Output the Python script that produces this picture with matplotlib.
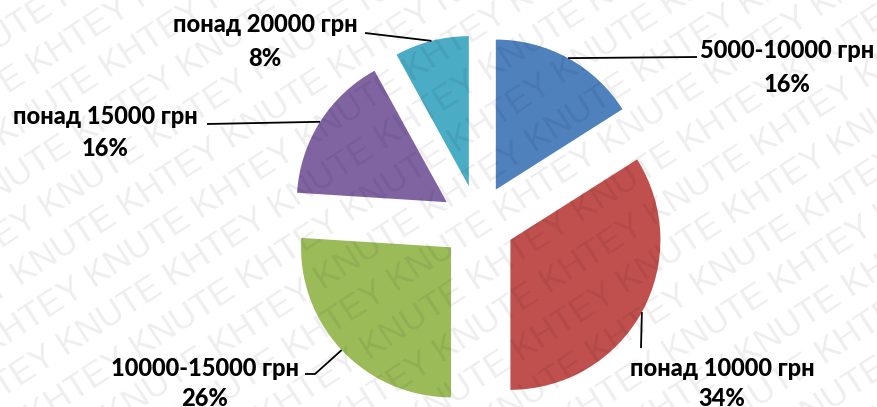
import numpy as np
import matplotlib
matplotlib.use("Agg")
import matplotlib.pyplot as plt

# ---- data ----
categories = ["5000-10000 грн", "понад 10000 грн", "10000-15000 грн", "понад 15000 грн", "понад 20000 грн"]
values = [16, 34, 26, 16, 8]
colors = ["#4F81BD", "#C0504D", "#9BBB59", "#8064A2", "#4BACC6"]

W, H = 877, 407
fig = plt.figure(figsize=(W / 100, H / 100), dpi=100)
ax = fig.add_axes([0, 0, 1, 1])

def P(x, ytop):
    return (x, H - ytop)

center = P(478, 222)
radius = 150
wedges, _ = ax.pie(values, colors=colors, startangle=90, counterclock=False,
                   radius=radius, center=center, explode=[37] * len(values),
                   wedgeprops=dict(linewidth=0), frame=True)
ax.set_xlim(0, W)
ax.set_ylim(0, H)
ax.set_aspect('equal')
ax.axis('off')

# label layout: (line end points after arc anchor, name position, pct position)
layout = [
    ([P(697, 57)], P(787, 50), P(787, 84)),
    ([P(641, 348)], P(722, 368), P(722, 399)),
    ([P(315, 374), P(305, 374)], P(205, 368), P(205, 399)),
    ([P(207, 124)], P(105, 116), P(105, 149)),
    ([P(365, 33)], P(265, 25), P(265, 58)),
]

font = dict(family=["Lato", "DejaVu Sans"], fontweight=900, fontsize=17, color="black")
for w, cat, val, (pts, namepos, pctpos) in zip(wedges, categories, values, layout):
    tm = np.deg2rad((w.theta1 + w.theta2) / 2)
    cx, cy = w.center
    ax_pt = (cx + w.r * np.cos(tm), cy + w.r * np.sin(tm))
    xs = [ax_pt[0]] + [p[0] for p in pts]
    ys = [ax_pt[1]] + [p[1] for p in pts]
    ax.plot(xs, ys, color="black", lw=1.3, zorder=5, solid_capstyle="butt")
    ax.text(namepos[0], namepos[1], cat, ha="center", va="center", zorder=6, **font)
    ax.text(pctpos[0], pctpos[1], f"{val}%", ha="center", va="center", zorder=6, **font)

# watermark
ang = 33
th = np.deg2rad(ang)
u = np.array([np.cos(th), np.sin(th)])
n = np.array([-np.sin(th), np.cos(th)])
spacing = 42
row_text = "KNUTE KHTEY " * 12
for k in range(-20, 25):
    base = np.array([W / 2, H / 2]) + n * spacing * k - u * 900 + u * (60 if k % 2 else 0)
    ax.text(base[0], base[1], row_text, rotation=ang, rotation_mode="anchor",
            ha="left", va="center", fontsize=25, family="Liberation Sans",
            color="black", alpha=0.07, zorder=10, clip_on=True)

fig.savefig("out.png", dpi=100)
